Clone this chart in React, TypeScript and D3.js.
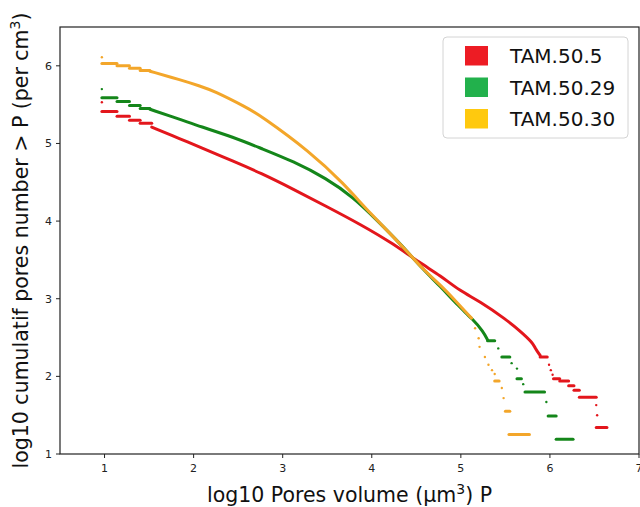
import React from "react";
import * as d3 from "d3";

const seriesNames = ["TAM.50.5", "TAM.50.29", "TAM.50.30"];
const markColors = ["#e3161c", "#14861a", "#f3a62a"];
const legendColors = ["#ed1c24", "#22b14c", "#ffc90e"];

const xTicks = [1, 2, 3, 4, 5, 6, 7];
const yTicks = [1, 2, 3, 4, 5, 6];

// dense part of each curve, [log10 volume, log10 count]
const redCurve: [number, number][] = [
  [1.53, 5.21], [1.85, 5.06], [2.07, 4.95], [2.45, 4.77], [2.75, 4.62],
  [3.12, 4.41], [3.49, 4.19], [3.87, 3.96], [4.24, 3.71], [4.54, 3.46],
  [4.77, 3.3], [4.99, 3.1], [5.21, 2.97], [5.51, 2.73], [5.66, 2.59],
  [5.81, 2.43], [5.83, 2.37], [5.89, 2.27],
];
const greenCurve: [number, number][] = [
  [1.51, 5.44], [1.85, 5.31], [2.07, 5.22], [2.45, 5.08], [2.75, 4.94],
  [3.12, 4.77], [3.49, 4.55], [3.79, 4.31], [4.06, 4.01], [4.32, 3.71],
  [4.58, 3.37], [4.77, 3.16], [4.95, 2.93], [5.14, 2.73], [5.25, 2.58],
  [5.3, 2.47],
];
const orangeCurve: [number, number][] = [
  [1.51, 5.93], [1.85, 5.82], [2.07, 5.74], [2.22, 5.68], [2.6, 5.46],
  [2.75, 5.36], [3.31, 4.89], [3.68, 4.49], [3.98, 4.1], [4.32, 3.71],
  [4.58, 3.37], [4.77, 3.18], [4.95, 2.96], [5.12, 2.75],
];

// flat runs and lone points, [x0, x1, y]
const redSteps: [number, number, number][] = [
  [0.97, 0.97, 5.53], [0.97, 1.14, 5.41], [1.14, 1.28, 5.35], [1.28, 1.4, 5.3],
  [1.4, 1.53, 5.26], [5.89, 5.97, 2.25], [5.99, 5.99, 2.15], [6.01, 6.01, 2.08],
  [6.03, 6.03, 2.02], [6.04, 6.11, 1.97], [6.11, 6.21, 1.94], [6.21, 6.27, 1.88],
  [6.27, 6.33, 1.82], [6.33, 6.52, 1.73], [6.52, 6.52, 1.63], [6.53, 6.53, 1.5],
  [6.52, 6.64, 1.34],
];
const greenSteps: [number, number, number][] = [
  [0.97, 0.97, 5.7], [0.97, 1.14, 5.59], [1.14, 1.28, 5.54], [1.28, 1.4, 5.49],
  [1.4, 1.51, 5.45], [5.3, 5.38, 2.46], [5.42, 5.42, 2.36], [5.46, 5.55, 2.25],
  [5.57, 5.57, 2.17], [5.63, 5.63, 2.1], [5.63, 5.68, 1.97], [5.7, 5.7, 1.9],
  [5.72, 5.94, 1.8], [5.96, 5.96, 1.67], [5.98, 6.07, 1.49], [6.07, 6.26, 1.19],
];
const orangeSteps: [number, number, number][] = [
  [0.97, 0.97, 6.11], [0.97, 1.14, 6.03], [1.14, 1.28, 6.0], [1.28, 1.4, 5.97],
  [1.4, 1.51, 5.94], [5.16, 5.16, 2.62], [5.2, 5.2, 2.49], [5.21, 5.21, 2.38],
  [5.27, 5.27, 2.25], [5.31, 5.31, 2.15], [5.35, 5.35, 2.08], [5.38, 5.38, 2.03],
  [5.38, 5.43, 1.94], [5.46, 5.46, 1.85], [5.48, 5.48, 1.72], [5.5, 5.55, 1.55],
  [5.54, 5.77, 1.25],
];

const curves = [redCurve, greenCurve, orangeCurve];
const steps = [redSteps, greenSteps, orangeSteps];

const W = 640;
const H = 507;
const left = 60;
const right = 639;
const top = 27;
const bottom = 454;
const font = "DejaVu Sans, sans-serif";

export default function App() {
  const x = d3.scaleLinear().domain([0.5, 7]).range([left, right]);
  const y = d3.scaleLinear().domain([1, 6.5]).range([bottom, top]);
  const line = d3
    .line<[number, number]>()
    .x(d => x(d[0]))
    .y(d => y(d[1]))
    .curve(d3.curveBasis);

  return (
    <svg
      width={W}
      height={H}
      style={{ position: "absolute", left: 0, top: 0, background: "#fff" }}
      fontFamily={font}
    >
      {curves.map((c, i) => (
        <g key={seriesNames[i]}>
          <path
            d={line(c) || ""}
            fill="none"
            stroke={markColors[i]}
            strokeWidth={3}
            strokeLinecap="round"
          />
          {steps[i].map((s, j) => (
            <line
              key={j}
              x1={x(s[0])}
              x2={x(s[1])}
              y1={y(s[2])}
              y2={y(s[2])}
              stroke={markColors[i]}
              strokeWidth={s[0] === s[1] ? 2.4 : 3}
              strokeLinecap="round"
            />
          ))}
        </g>
      ))}

      <rect
        x={left}
        y={top}
        width={right - left}
        height={bottom - top}
        fill="none"
        stroke="#222"
        strokeWidth={1.2}
      />

      {xTicks.map(t => (
        <g key={"x" + t}>
          <line x1={x(t)} x2={x(t)} y1={bottom} y2={bottom + 4} stroke="#222" />
          <text x={x(t)} y={bottom + 18} fontSize={11} textAnchor="middle" fill="#222">
            {t}
          </text>
        </g>
      ))}
      {yTicks.map(t => (
        <g key={"y" + t}>
          <line x1={left - 4} x2={left} y1={y(t)} y2={y(t)} stroke="#222" />
          <text x={left - 8} y={y(t) + 4} fontSize={11} textAnchor="end" fill="#222">
            {t}
          </text>
        </g>
      ))}

      <text x={(left + right) / 2} y={502} fontSize={20.5} textAnchor="middle" fill="#111">
        log10 Pores volume (µm<tspan dy={-8} fontSize={14}>3</tspan>
        <tspan dy={8}>) P</tspan>
      </text>
      <text
        transform={`translate(28,${(top + bottom) / 2}) rotate(-90)`}
        fontSize={20.5}
        textAnchor="middle"
        fill="#111"
      >
        log10 cumulatif pores number {">"} P (per cm<tspan dy={-8} fontSize={14}>3</tspan>
        <tspan dy={8}>)</tspan>
      </text>

      <rect x={443} y={37} width={185} height={101} rx={4} fill="#fff" stroke="#d4d4d4" />
      {seriesNames.map((n, i) => (
        <g key={n}>
          <rect x={465} y={46 + i * 31.5} width={23} height={19.5} fill={legendColors[i]} />
          <text x={510} y={63 + i * 31.5} fontSize={20} fill="#111">
            {n}
          </text>
        </g>
      ))}
    </svg>
  );
}
